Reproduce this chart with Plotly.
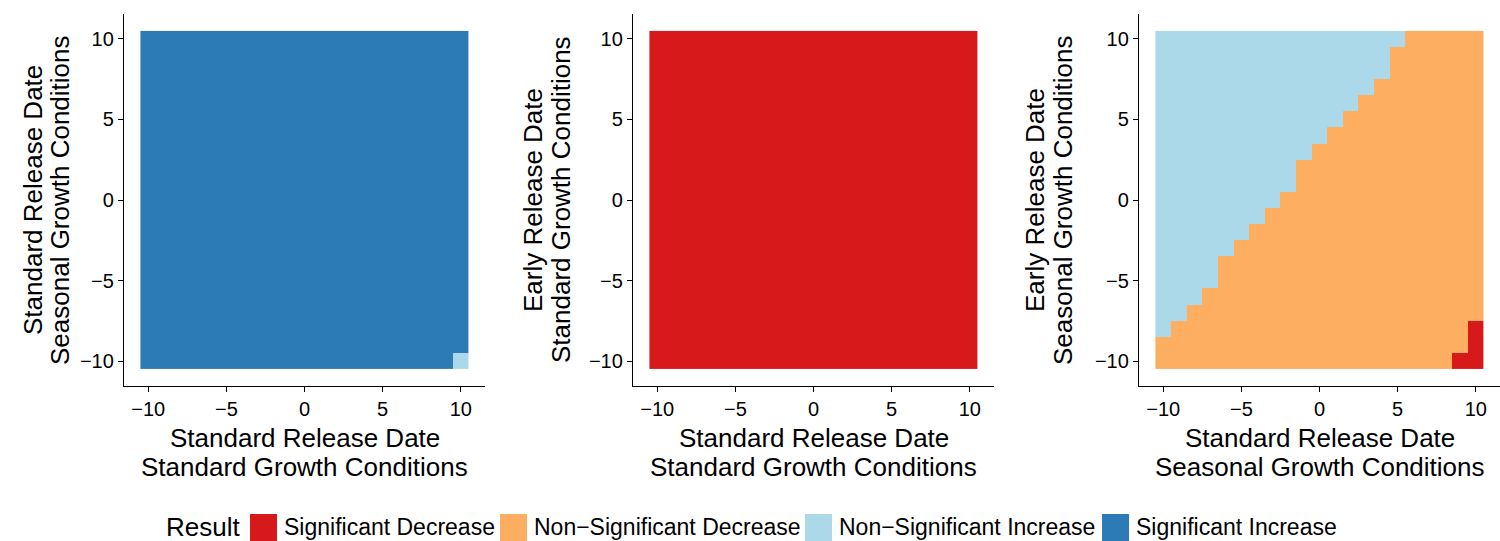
import plotly.graph_objects as go

# Shared grid of offsets (days) on both axes
grid = list(range(-10, 11))

categories = [
    "Significant Decrease",
    "Non\u2212Significant Decrease",
    "Non\u2212Significant Increase",
    "Significant Increase",
]
colors = ["#D7191C", "#FDAE61", "#ABD9E9", "#2C7BB6"]

# Panel 1: standard vs seasonal growth (standard release)
p1_base = "Significant Increase"
p1_exceptions = [(10, -10, "Non\u2212Significant Increase")]

# Panel 2: standard vs early release (standard growth)
p2_base = "Significant Decrease"
p2_exceptions = []

# Panel 3: seasonal growth, standard vs early release.
# For each x column, lowest y at which the result is a non-significant increase
# (None = no increase anywhere in that column).
p3_increase_from = [-8, -7, -6, -5, -3, -2, -1, 0, 1, 3, 4, 5, 6, 7, 8, 10,
                    None, None, None, None, None]
p3_exceptions = [(9, -10, "Significant Decrease"),
                 (10, -8, "Significant Decrease"),
                 (10, -9, "Significant Decrease"),
                 (10, -10, "Significant Decrease")]

x_titles = [("Standard Release Date", "Standard Growth Conditions"),
            ("Standard Release Date", "Standard Growth Conditions"),
            ("Standard Release Date", "Seasonal Growth Conditions")]
y_titles = [("Standard Release Date", "Seasonal Growth Conditions"),
            ("Early Release Date", "Standard Growth Conditions"),
            ("Early Release Date", "Seasonal Growth Conditions")]

code = {c: i for i, c in enumerate(categories)}


def build(base_fn, exceptions):
    z = [[code[base_fn(x, y)] for x in grid] for y in grid]
    for x, y, c in exceptions:
        z[grid.index(y)][grid.index(x)] = code[c]
    return z


z1 = build(lambda x, y: p1_base, p1_exceptions)
z2 = build(lambda x, y: p2_base, p2_exceptions)


def p3_cell(x, y):
    lim = p3_increase_from[grid.index(x)]
    if lim is not None and y >= lim:
        return "Non\u2212Significant Increase"
    return "Non\u2212Significant Decrease"


z3 = build(p3_cell, p3_exceptions)

n = len(categories)
colorscale = []
for i, c in enumerate(colors):
    colorscale.append([i / n, c])
    colorscale.append([(i + 1) / n, c])

W, H = 1500, 541
FONT = "Liberation Sans, Arial, Helvetica, sans-serif"
TITLE_SIZE = 26
TICK_SIZE = 20
LEGEND_SIZE = 23

# Panel placement in pixels
panel_left = [124, 633, 1139]
panel_width = 361
plot_top, plot_bottom = 14, 386
ytitle_x = [(33, 60), (533, 561), (1035, 1063)]
xtitle_y = (438, 467)


def px(v):
    return v / W


def py(v):
    return (H - v) / H


fig = go.Figure()
for i, z in enumerate([z1, z2, z3]):
    sfx = "" if i == 0 else str(i + 1)
    fig.add_trace(go.Heatmap(
        x=grid, y=grid, z=z, zmin=0, zmax=n - 1,
        colorscale=colorscale, showscale=False,
        xaxis="x" + sfx, yaxis="y" + sfx,
        hovertemplate="x=%{x}<br>y=%{y}<extra></extra>",
    ))
    common = dict(
        range=[-11.55, 11.55], tickvals=[-10, -5, 0, 5, 10],
        showline=True, linecolor="black", linewidth=1.3,
        ticks="outside", ticklen=5, tickwidth=1.2, tickcolor="black",
        showgrid=False, zeroline=False, fixedrange=True,
        tickfont=dict(family=FONT, size=TICK_SIZE, color="black"),
    )
    fig.layout["xaxis" + sfx] = dict(
        domain=[px(panel_left[i]), px(panel_left[i] + panel_width)],
        anchor="y" + sfx, **common)
    fig.layout["yaxis" + sfx] = dict(
        domain=[py(plot_bottom), py(plot_top)],
        anchor="x" + sfx, **common)

    # axis titles, one annotation per line
    for line, yy in zip(x_titles[i], xtitle_y):
        fig.add_annotation(
            text=line, xref="paper", yref="paper",
            x=px(panel_left[i] + panel_width / 2), y=py(yy),
            xanchor="center", yanchor="middle", showarrow=False,
            font=dict(family=FONT, size=TITLE_SIZE, color="black"),
        )
    for line, xx in zip(y_titles[i], ytitle_x[i]):
        fig.add_annotation(
            text=line, xref="paper", yref="paper",
            x=px(xx), y=py((plot_top + plot_bottom) / 2),
            xanchor="center", yanchor="middle", showarrow=False, textangle=-90,
            font=dict(family=FONT, size=TITLE_SIZE, color="black"),
        )

# Legend drawn along the bottom
legend_y = 527
fig.add_annotation(
    text="Result", xref="paper", yref="paper", x=px(164), y=py(legend_y),
    xanchor="left", yanchor="middle", showarrow=False,
    font=dict(family=FONT, size=TITLE_SIZE, color="black"),
)
swatch_x = [250, 500, 805, 1102]
for c, col, sx in zip(categories, colors, swatch_x):
    fig.add_shape(
        type="rect", xref="paper", yref="paper",
        x0=px(sx), x1=px(sx + 27),
        y0=py(legend_y + 14), y1=py(legend_y - 13),
        fillcolor=col, line=dict(width=0),
    )
    fig.add_annotation(
        text=c, xref="paper", yref="paper", x=px(sx + 32), y=py(legend_y),
        xanchor="left", yanchor="middle", showarrow=False,
        font=dict(family=FONT, size=LEGEND_SIZE, color="black"),
    )

fig.update_layout(
    width=W, height=H, margin=dict(l=0, r=0, t=0, b=0),
    paper_bgcolor="white", plot_bgcolor="white", showlegend=False,
)

fig.write_html("out.html")
